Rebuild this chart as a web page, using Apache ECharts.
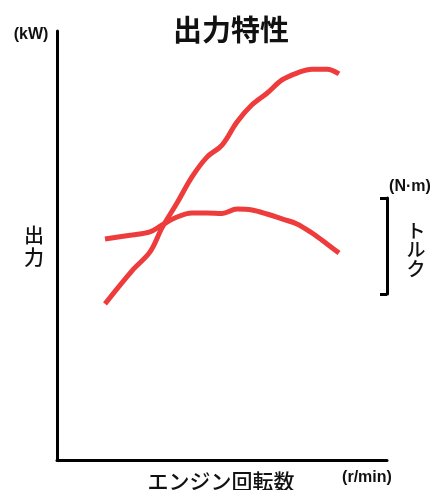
<!DOCTYPE html>
<html>
<head>
<meta charset="utf-8">
<script src="https://cdn.jsdelivr.net/npm/echarts@6/dist/echarts.min.js"></script>
<style>
  html, body { margin: 0; padding: 0; background: #fff; }
  #chart { width: 434px; height: 490px; }
</style>
</head>
<body>
<div id="chart"></div>
<script>
// Engine speed samples (r/min)
const rpm = [1600, 2500, 3100, 3500, 4000, 4500, 5000, 5500, 6000, 6500, 7000, 7500, 8000, 8500, 9000, 9400];
// Output power (kW, relative scale 0-100)
const power = [36.4, 44.1, 48.5, 54.1, 59.9, 66.0, 70.6, 73.4, 78.8, 82.8, 85.5, 88.6, 90.2, 91.1, 91.1, 90.0];
// Torque (N·m, relative scale 0-60)
const torque = [34.4, 36.9, 38.8, 43.1, 48.1, 50.6, 50.6, 50.3, 53.1, 52.5, 50.0, 46.9, 43.8, 38.1, 31.3, 25.6];

const RED = '#ee3b3b';
const CJK = '"Noto Sans CJK JP", "Noto Sans", sans-serif';
const LATIN = '"Liberation Sans", Arial, sans-serif';

const chart = echarts.init(document.getElementById('chart'));
const pairs = (ys) => rpm.map((x, i) => [x, ys[i]]);

chart.setOption({
  animation: false,
  title: {
    text: '出力特性',
    left: 168,
    top: 10,
    textStyle: { fontFamily: CJK, fontSize: 29, fontWeight: 'bold', color: '#111' }
  },
  grid: [
    { left: 57, right: 47, top: 31, bottom: 30 },
    { left: 57, right: 47, top: 198, bottom: 196 }
  ],
  xAxis: [
    {
      type: 'value', gridIndex: 0, min: 0, max: 11000,
      axisLine: { show: true, onZero: false, lineStyle: { color: '#000', width: 3 } },
      axisTick: { show: false }, axisLabel: { show: false }, splitLine: { show: false }
    },
    {
      type: 'value', gridIndex: 1, min: 0, max: 11000, show: false
    }
  ],
  yAxis: [
    {
      type: 'value', gridIndex: 0, min: 0, max: 100,
      axisLine: { show: true, onZero: false, lineStyle: { color: '#000', width: 3 } },
      axisTick: { show: false }, axisLabel: { show: false }, splitLine: { show: false }
    },
    {
      // Torque scale bracket on the right
      type: 'value', gridIndex: 1, position: 'right', min: 0, max: 60, interval: 60,
      axisLine: { show: true, onZero: false, lineStyle: { color: '#000', width: 3 } },
      axisTick: { show: true, inside: true, length: 7, lineStyle: { color: '#000', width: 3 } },
      axisLabel: { show: false }, splitLine: { show: false }
    }
  ],
  series: [
    {
      name: '出力', type: 'line', xAxisIndex: 0, yAxisIndex: 0,
      data: pairs(power), smooth: 0.35, symbol: 'none',
      lineStyle: { color: RED, width: 5 }
    },
    {
      name: 'トルク', type: 'line', xAxisIndex: 1, yAxisIndex: 1,
      data: pairs(torque), smooth: 0.35, symbol: 'none',
      lineStyle: { color: RED, width: 5 }
    }
  ],
  graphic: [
    { type: 'text', x: 31, y: 35, style: { text: '(kW)', font: 'bold 16px ' + LATIN, fill: '#111', align: 'center', verticalAlign: 'middle' } },
    { type: 'text', x: 34, y: 246, style: { text: '出\n力', font: '500 20px ' + CJK, lineHeight: 22, fill: '#111', align: 'center', verticalAlign: 'middle' } },
    { type: 'text', x: 410, y: 187, style: { text: '(N·m)', font: 'bold 16px ' + LATIN, fill: '#111', align: 'center', verticalAlign: 'middle' } },
    { type: 'text', x: 416, y: 250, style: { text: 'ト\nル\nク', font: '500 19px ' + CJK, lineHeight: 19, fill: '#111', align: 'center', verticalAlign: 'middle' } },
    { type: 'text', x: 221, y: 481, style: { text: 'エンジン回転数', font: '500 21px ' + CJK, fill: '#111', align: 'center', verticalAlign: 'middle' } },
    { type: 'text', x: 367, y: 478, style: { text: '(r/min)', font: 'bold 16px ' + LATIN, fill: '#111', align: 'center', verticalAlign: 'middle' } }
  ]
});
</script>
</body>
</html>
